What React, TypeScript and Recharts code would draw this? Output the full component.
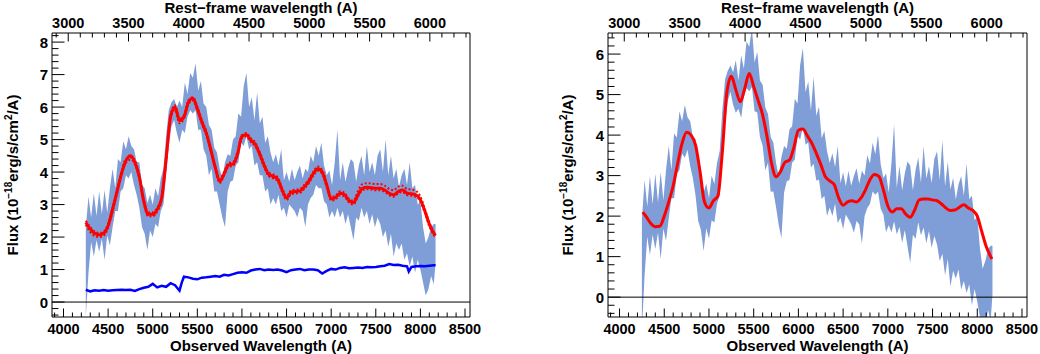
import { ComposedChart, Area, Line, XAxis, YAxis, ReferenceLine } from 'recharts';

// observed wavelength grid of the spectrum band (A)
const bandWl = [
  4250, 4280, 4310, 4340, 4370, 4400, 4430, 4460, 4490, 4520,
  4550, 4580, 4610, 4640, 4670, 4700, 4730, 4760, 4790, 4820,
  4850, 4880, 4910, 4940, 4970, 5000, 5030, 5060, 5090, 5120,
  5150, 5180, 5210, 5240, 5270, 5300, 5330, 5360, 5390, 5420,
  5450, 5480, 5510, 5540, 5570, 5600, 5630, 5660, 5690, 5720,
  5750, 5780, 5810, 5840, 5870, 5900, 5930, 5960, 5990, 6020,
  6050, 6080, 6110, 6140, 6170, 6200, 6230, 6260, 6290, 6320,
  6350, 6380, 6410, 6440, 6470, 6500, 6530, 6560, 6590, 6620,
  6650, 6680, 6710, 6740, 6770, 6800, 6830, 6860, 6890, 6920,
  6950, 6980, 7010, 7040, 7070, 7100, 7130, 7160, 7190, 7220,
  7250, 7280, 7310, 7340, 7370, 7400, 7430, 7460, 7490, 7520,
  7550, 7580, 7610, 7640, 7670, 7700, 7730, 7760, 7790, 7820,
  7850, 7880, 7910, 7940, 7970, 8000, 8030, 8060, 8090, 8120,
  8150, 8170,
];

// total spectrum (left panel), lower / upper edge
const totalLo = [
  -0.45, 0.9, 1.85, 1.4, 1.9, 1.55, 1.95, 1.3, 2.05, 1.75,
  2.3, 2.8, 2.8, 3.4, 3.5, 3.9, 3.8, 4.0, 3.6, 3.3,
  2.9, 2.3, 2.1, 1.6, 2.2, 2.0, 2.4, 2.3, 2.8, 3.0,
  3.9, 4.8, 5.4, 5.6, 5.2, 4.9, 5.3, 5.2, 5.7, 5.9,
  5.8, 5.9, 5.3, 5.3, 4.7, 4.5, 3.9, 4.1, 3.4, 3.4,
  3.0, 2.6, 2.3, 3.4, 3.7, 3.75, 4.2, 4.3, 4.9, 4.8,
  5.1, 4.7, 4.8, 4.2, 4.3, 3.9, 3.9, 3.4, 3.5, 3.0,
  3.2, 3.0, 3.3, 2.8, 2.9, 2.6, 3.0, 2.9, 2.8, 2.6,
  2.9, 2.8, 2.3, 3.0, 3.2, 3.3, 3.6, 3.5, 3.5, 3.1,
  3.0, 2.6, 2.8, 2.6, 2.9, 2.6, 2.8, 2.4, 2.7, 2.3,
  1.9, 2.6, 2.5, 2.9, 2.6, 2.8, 2.4, 2.7, 2.3, 2.6,
  2.4, 2.0, 2.2, 1.7, 2.1, 1.4, 1.8, 1.6, 1.8, 1.3,
  1.5, 1.1, 1.4, 0.9, 1.3, 1.0, 0.6, 0.2, 0.4, 0.8,
  0.55, 1.2,
];
const totalHi = [
  2.3, 3.25, 2.6, 3.35, 2.65, 3.4, 2.7, 3.45, 2.75, 3.5,
  4.1, 3.5, 4.4, 4.3, 4.95, 4.7, 5.1, 4.8, 4.7, 4.3,
  4.3, 3.6, 3.5, 3.05, 3.3, 3.0, 3.5, 3.25, 3.8, 4.1,
  5.1, 5.9, 6.15, 6.25, 6.0, 6.2, 6.0, 6.75, 6.4, 7.05,
  6.9, 7.35, 6.5, 6.8, 6.1, 6.0, 5.45, 5.3, 4.75, 4.6,
  4.1, 3.8, 4.3, 4.55, 4.5, 5.0, 5.1, 5.8, 5.7, 6.65,
  7.05, 6.0, 6.3, 5.6, 6.45, 5.5, 5.7, 4.9, 5.1, 4.6,
  4.3, 4.55, 4.2, 4.7, 3.75, 4.0, 3.7, 4.1, 3.75, 4.0,
  4.2, 3.8, 4.1, 4.0, 4.5, 4.3, 4.8, 4.5, 4.9, 4.2,
  3.9, 4.05, 3.6, 4.3, 5.3, 3.75, 4.3, 3.7, 4.1, 4.4,
  4.3, 3.7, 4.2, 4.5, 3.9, 4.8, 4.0, 4.3, 3.9, 4.5,
  4.7, 4.0, 5.0, 3.9, 4.5, 3.8, 4.1, 3.55, 3.9, 4.1,
  3.6, 4.3, 3.5, 3.6, 3.0, 3.1, 2.3, 1.8, 2.0, 2.3,
  2.4, 2.4,
];

// host-subtracted spectrum (right panel), lower / upper edge
const agnLo = [
  -0.83, 0.54, 1.49, 1.04, 1.54, 1.19, 1.59, 0.94, 1.69, 1.39,
  1.94, 2.44, 2.44, 3.04, 3.14, 3.54, 3.44, 3.64, 3.24, 2.94,
  2.5, 1.88, 1.66, 1.14, 1.7, 1.44, 1.9, 1.84, 2.31, 2.51,
  3.43, 4.27, 4.84, 5.07, 4.75, 4.55, 4.65, 4.42, 4.94, 5.16,
  5.08, 5.19, 4.59, 4.56, 3.95, 3.74, 3.13, 3.32, 2.6, 2.61,
  2.22, 1.78, 1.46, 2.58, 2.86, 2.89, 3.32, 3.4, 3.98, 3.89,
  4.2, 3.76, 3.82, 3.2, 3.29, 2.88, 2.9, 2.42, 2.5, 2.01,
  2.21, 2.0, 2.31, 1.83, 1.96, 1.68, 2.04, 1.92, 1.8, 1.59,
  1.88, 1.8, 1.32, 2.0, 2.2, 2.3, 2.61, 2.53, 2.6, 2.18,
  2.04, 1.6, 1.78, 1.6, 1.87, 1.55, 1.74, 1.34, 1.66, 1.25,
  0.85, 1.54, 1.44, 1.85, 1.53, 1.72, 1.33, 1.63, 1.22, 1.51,
  1.3, 0.89, 1.07, 0.54, 0.94, 0.26, 0.65, 0.46, 0.68, 0.19,
  0.4, 0.1, 0.32, -0.2, 0.2, -0.11, -0.5, -0.9, -0.71, -0.32,
  -0.58, 0.07,
];
const agnHi = [
  1.92, 2.89, 2.24, 2.99, 2.29, 3.04, 2.34, 3.09, 2.39, 3.14,
  3.74, 3.14, 4.04, 3.94, 4.59, 4.34, 4.74, 4.44, 4.34, 3.94,
  3.9, 3.18, 3.06, 2.59, 2.8, 2.44, 3.0, 2.79, 3.31, 3.61,
  4.63, 5.37, 5.59, 5.72, 5.55, 5.85, 5.35, 5.97, 5.64, 6.31,
  6.18, 6.64, 5.79, 6.06, 5.35, 5.24, 4.68, 4.52, 3.95, 3.81,
  3.32, 2.98, 3.46, 3.73, 3.66, 4.14, 4.22, 4.9, 4.78, 5.74,
  6.15, 5.06, 5.32, 4.6, 5.44, 4.48, 4.7, 3.92, 4.1, 3.61,
  3.31, 3.55, 3.21, 3.73, 2.81, 3.08, 2.74, 3.12, 2.75, 2.99,
  3.18, 2.8, 3.12, 3.0, 3.5, 3.3, 3.81, 3.53, 4.0, 3.28,
  2.94, 3.05, 2.58, 3.3, 4.27, 2.7, 3.24, 2.64, 3.06, 3.35,
  3.25, 2.64, 3.14, 3.45, 2.83, 3.72, 2.93, 3.23, 2.82, 3.41,
  3.6, 2.89, 3.87, 2.74, 3.34, 2.66, 2.95, 2.41, 2.78, 2.99,
  2.5, 3.3, 2.42, 2.5, 1.9, 1.99, 1.2, 0.7, 0.89, 1.18,
  1.27, 1.27,
];

// host galaxy template (blue)
const hostWl = [
  4250, 4300, 4350, 4400, 4450, 4500, 4550, 4600, 4650, 4700,
  4750, 4800, 4850, 4900, 4950, 5000, 5050, 5100, 5150, 5200,
  5250, 5300, 5325, 5350, 5400, 5450, 5500, 5550, 5600, 5650,
  5700, 5750, 5800, 5850, 5900, 5950, 6000, 6050, 6100, 6150,
  6200, 6250, 6300, 6350, 6400, 6450, 6500, 6550, 6600, 6650,
  6700, 6750, 6800, 6850, 6900, 6950, 7000, 7050, 7100, 7150,
  7200, 7250, 7300, 7350, 7400, 7450, 7500, 7550, 7600, 7650,
  7700, 7750, 7800, 7850, 7870, 7900, 7950, 8000, 8050, 8100,
  8150, 8170,
];
const hostFlux = [
  0.38, 0.33, 0.36, 0.35, 0.37, 0.35, 0.36, 0.37, 0.38, 0.37,
  0.38, 0.34, 0.4, 0.44, 0.47, 0.56, 0.45, 0.5, 0.47, 0.58,
  0.52, 0.35, 0.6, 0.78, 0.76, 0.72, 0.7, 0.75, 0.76, 0.78,
  0.8, 0.78, 0.84, 0.82, 0.86, 0.9, 0.92, 0.9, 0.97, 1.0,
  1.02, 0.98, 1.0, 0.99, 1.0, 0.97, 0.92, 0.98, 1.0, 1.02,
  0.98, 1.0, 1.0, 0.98, 0.88, 0.96, 1.02, 1.0, 1.05, 1.07,
  1.04, 1.05, 1.06, 1.05, 1.08, 1.07, 1.08, 1.1, 1.12, 1.17,
  1.14, 1.15, 1.12, 1.1, 0.94, 1.08, 1.1, 1.11, 1.1, 1.12,
  1.13, 1.13,
];

// fit to the total spectrum (left, red) with its error curves
const fitWl = [
  4250, 4300, 4350, 4400, 4450, 4500, 4550, 4600, 4650, 4700,
  4750, 4800, 4850, 4900, 4950, 5000, 5050, 5100, 5150, 5200,
  5250, 5300, 5350, 5400, 5450, 5500, 5550, 5600, 5650, 5700,
  5750, 5800, 5850, 5900, 5950, 6000, 6050, 6100, 6150, 6200,
  6250, 6300, 6350, 6400, 6450, 6500, 6550, 6600, 6650, 6700,
  6750, 6800, 6850, 6900, 6950, 7000, 7050, 7100, 7150, 7200,
  7250, 7300, 7350, 7400, 7450, 7500, 7550, 7600, 7650, 7700,
  7750, 7800, 7850, 7900, 7950, 8000, 8050, 8100, 8150, 8170,
];
const fitTotal = [
  2.45, 2.25, 2.12, 2.07, 2.12, 2.35, 2.85, 3.4, 3.95, 4.35,
  4.5, 4.3, 3.85, 3.1, 2.7, 2.7, 2.85, 3.2, 4.4, 5.7,
  6.0, 5.58, 5.7, 6.15, 6.27, 5.95, 5.55, 5.2, 4.7, 4.15,
  3.72, 3.95, 4.22, 4.25, 4.55, 5.1, 5.15, 4.98, 4.85, 4.55,
  4.2, 3.93, 3.87, 3.78, 3.45, 3.2, 3.38, 3.4, 3.42, 3.55,
  3.72, 3.95, 4.1, 4.0, 3.6, 3.18, 3.22, 3.35, 3.3, 3.12,
  3.06, 3.3, 3.5, 3.53, 3.52, 3.5, 3.5, 3.45, 3.35, 3.3,
  3.4, 3.45, 3.35, 3.33, 3.3, 3.15, 2.8, 2.4, 2.12, 2.05,
];
const fitTotalUp = [
  2.5, 2.3, 2.17, 2.12, 2.17, 2.41, 2.91, 3.46, 4.01, 4.41,
  4.45, 4.36, 3.91, 3.16, 2.76, 2.76, 2.91, 3.26, 4.46, 5.76,
  6.06, 5.64, 5.76, 6.21, 6.3, 6.01, 5.61, 5.26, 4.76, 4.21,
  3.78, 4.01, 4.28, 4.31, 4.61, 5.14, 5.2, 5.04, 4.91, 4.61,
  4.26, 3.99, 3.93, 3.84, 3.51, 3.26, 3.44, 3.46, 3.48, 3.61,
  3.78, 4.01, 4.17, 4.06, 3.66, 3.24, 3.28, 3.41, 3.36, 3.18,
  3.12, 3.42, 3.63, 3.66, 3.65, 3.63, 3.63, 3.58, 3.48, 3.44,
  3.55, 3.58, 3.48, 3.46, 3.42, 3.25, 2.86, 2.46, 2.16, 2.08,
];
const fitTotalLow = [
  2.38, 2.15, 2.03, 2.0, 2.04, 2.29, 2.79, 3.34, 3.89, 4.29,
  4.38, 4.24, 3.79, 3.04, 2.64, 2.64, 2.79, 3.14, 4.34, 5.64,
  5.92, 5.5, 5.64, 6.09, 6.2, 5.89, 5.49, 5.14, 4.64, 4.09,
  3.66, 3.89, 4.16, 4.19, 4.49, 5.05, 5.1, 4.92, 4.79, 4.49,
  4.14, 3.87, 3.81, 3.72, 3.39, 3.14, 3.32, 3.34, 3.36, 3.49,
  3.66, 3.89, 4.04, 3.94, 3.54, 3.12, 3.16, 3.29, 3.24, 3.06,
  3.0, 3.24, 3.44, 3.47, 3.46, 3.44, 3.44, 3.39, 3.29, 3.24,
  3.34, 3.39, 3.29, 3.27, 3.24, 3.09, 2.74, 2.34, 2.06, 2.0,
];

// fit to the host-subtracted spectrum (right, red)
const agnFitWl = [
  4260, 4300, 4350, 4400, 4450, 4500, 4550, 4600, 4650, 4700,
  4750, 4800, 4850, 4900, 4950, 5000, 5050, 5100, 5150, 5200,
  5250, 5300, 5350, 5400, 5450, 5500, 5550, 5600, 5650, 5700,
  5750, 5800, 5850, 5900, 5950, 6000, 6050, 6100, 6150, 6200,
  6250, 6300, 6350, 6400, 6450, 6500, 6550, 6600, 6650, 6700,
  6750, 6800, 6850, 6900, 6950, 7000, 7050, 7100, 7150, 7200,
  7250, 7300, 7350, 7400, 7450, 7500, 7550, 7600, 7650, 7700,
  7750, 7800, 7850, 7900, 7950, 8000, 8050, 8100, 8150, 8165,
];
const agnFit = [
  2.1, 1.98, 1.82, 1.74, 1.75, 2.0, 2.35, 2.75, 3.3, 3.8,
  4.07, 4.0, 3.75, 3.1, 2.35, 2.2, 2.38, 2.5, 3.6, 5.05,
  5.45, 5.12, 4.82, 5.15, 5.52, 5.2, 4.85, 4.5, 3.95, 3.3,
  2.97, 3.1, 3.33, 3.38, 3.7, 4.12, 4.15, 3.98, 3.8, 3.55,
  3.28, 2.98, 2.87, 2.78, 2.45, 2.27, 2.35, 2.38, 2.35, 2.45,
  2.65, 2.9, 3.03, 2.98, 2.65, 2.25, 2.1, 2.18, 2.18, 2.05,
  1.97, 2.15, 2.4, 2.42, 2.42, 2.4, 2.38, 2.3, 2.2, 2.14,
  2.15, 2.22, 2.28, 2.2, 2.14, 2.0, 1.62, 1.25, 1.0, 0.94,
];

const obsMajor = [4000, 4500, 5000, 5500, 6000, 6500, 7000, 7500, 8000, 8500];
const restMajor = [3000, 3500, 4000, 4500, 5000, 5500, 6000];
const onePlusZ = 1.351;
const obsDomain: [number, number] = [3871, 8556];
const restDomain: [number, number] = [obsDomain[0] / onePlusZ, obsDomain[1] / onePlusZ];

const FONT = '"Liberation Sans", Arial, Helvetica, sans-serif';
const BAND = '#7f9dd6';

const steps = (from: number, to: number, step: number) => {
  const out: number[] = [];
  for (let v = from; v <= to + 1e-9; v += step) out.push(Math.round(v * 100) / 100);
  return out;
};
const obsTicks = steps(3900, 8500, 100);
const restTicks = steps(2900, 6300, 100);

const zip = (xs: number[], ys: number[]) => xs.map((x, i) => ({ wl: x, v: ys[i] }));
const zipBand = (xs: number[], lo: number[], hi: number[]) =>
  xs.map((x, i) => ({ wl: x, v: [lo[i], hi[i]] }));
// anchors the rest-frame axis so that it gets a scale
const restAnchor = restDomain.map((w) => ({ wl: w, v: null }));

const isMajorY = (v: number) => Math.abs(v - Math.round(v)) < 1e-6;

function BottomTick(props: any) {
  const { x, y, payload } = props;
  const major = obsMajor.includes(payload.value);
  return (
    <g>
      <line x1={x} x2={x} y1={y} y2={y - (major ? 8.5 : 4.5)} stroke="#000" strokeWidth={1} />
      {major && (
        <text x={x} y={y + 17} textAnchor="middle" fontFamily={FONT} fontWeight="bold" fontSize={14.5} fill="#000">
          {payload.value}
        </text>
      )}
    </g>
  );
}

function TopTick(props: any) {
  const { x, y, payload } = props;
  const major = restMajor.includes(payload.value);
  return (
    <g>
      <line x1={x} x2={x} y1={y} y2={y + (major ? 8.5 : 4.5)} stroke="#000" strokeWidth={1} />
      {major && (
        <text x={x} y={y - 5} textAnchor="middle" fontFamily={FONT} fontWeight="bold" fontSize={14.5} fill="#000">
          {payload.value}
        </text>
      )}
    </g>
  );
}

function LeftTick(props: any) {
  const { x, y, payload } = props;
  const major = isMajorY(payload.value);
  return (
    <g>
      <line x1={x} x2={x + (major ? 12.5 : 6.5)} y1={y} y2={y} stroke="#000" strokeWidth={1} />
      {major && (
        <text x={x - 4} y={y + 5.5} textAnchor="end" fontFamily={FONT} fontWeight="bold" fontSize={15} fill="#000">
          {Math.round(payload.value)}
        </text>
      )}
    </g>
  );
}

const titleStyle = { fontFamily: FONT, fontWeight: 'bold' as const, fontSize: 15, fill: '#000' };

const xTitle = (cx: number, y: number, text: string) => () => (
  <text x={cx} y={y} textAnchor="middle" {...titleStyle}>
    {text}
  </text>
);

const yTitle = (bx: number) => () => (
  <text transform={`translate(${bx},175) rotate(-90)`} textAnchor="middle" {...titleStyle}>
    Flux (10
    <tspan dy={-6} fontSize={10}>
      −18
    </tspan>
    <tspan dy={6}>erg/s/cm</tspan>
    <tspan dy={-6} fontSize={10}>
      2
    </tspan>
    <tspan dy={6}>/A)</tspan>
  </text>
);

interface PanelProps {
  left: number;
  yWidth: number;
  rightMargin: number;
  titleX: number;
  yDomain: [number, number];
  yTicks: number[];
  children: React.ReactNode;
}

function Panel({ left, yWidth, rightMargin, titleX, yDomain, yTicks, children }: PanelProps) {
  const plotCx = yWidth + (520 - yWidth - rightMargin - 1) / 2;
  return (
    <div style={{ position: 'absolute', left, top: 0 }}>
      <ComposedChart width={520} height={354} margin={{ top: 0, right: rightMargin, bottom: 0, left: 0 }}>
        <XAxis
          xAxisId="obs"
          dataKey="wl"
          type="number"
          orientation="bottom"
          domain={obsDomain}
          allowDataOverflow
          ticks={obsTicks}
          interval={0}
          height={37}
          tickSize={0}
          tickMargin={0}
          tickLine={false}
          tick={<BottomTick />}
          axisLine={{ stroke: '#000', strokeWidth: 1 }}
          label={xTitle(plotCx, 351, 'Observed Wavelength (A)')}
        />
        <XAxis
          xAxisId="rest"
          dataKey="wl"
          type="number"
          orientation="top"
          domain={restDomain}
          allowDataOverflow
          ticks={restTicks}
          interval={0}
          height={33}
          tickSize={0}
          tickMargin={0}
          tickLine={false}
          tick={<TopTick />}
          axisLine={{ stroke: '#000', strokeWidth: 1 }}
          label={xTitle(plotCx, 13, 'Rest−frame wavelength (A)')}
        />
        <YAxis
          yAxisId="flux"
          type="number"
          domain={yDomain}
          allowDataOverflow
          ticks={yTicks}
          interval={0}
          width={yWidth}
          tickSize={0}
          tickMargin={0}
          tickLine={false}
          tick={<LeftTick />}
          axisLine={{ stroke: '#000', strokeWidth: 1 }}
          label={yTitle(titleX)}
        />
        <YAxis
          yAxisId="frame"
          orientation="right"
          type="number"
          domain={yDomain}
          allowDataOverflow
          width={1}
          tick={false}
          tickLine={false}
          axisLine={{ stroke: '#000', strokeWidth: 1 }}
        />
        <Line
          xAxisId="rest"
          yAxisId="flux"
          data={restAnchor}
          dataKey="v"
          stroke="none"
          dot={false}
          legendType="none"
          isAnimationActive={false}
        />
        {children}
      </ComposedChart>
    </div>
  );
}

export default function App() {
  const totalBand = zipBand(bandWl, totalLo, totalHi);
  const agnBand = zipBand(bandWl, agnLo, agnHi);
  return (
    <div style={{ position: 'absolute', left: 0, top: 0, width: 1040, height: 354, background: '#fff' }}>
      <Panel left={0} yWidth={52} rightMargin={49} titleX={18} yDomain={[-0.46, 8.28]} yTicks={steps(-0.4, 8.2, 0.2)}>
        <Area
          xAxisId="obs"
          yAxisId="flux"
          data={totalBand}
          dataKey="v"
          type="linear"
          stroke="none"
          fill={BAND}
          fillOpacity={1}
          isAnimationActive={false}
        />
        <ReferenceLine xAxisId="obs" yAxisId="flux" y={0} stroke="#000" strokeWidth={1} />
        <Line xAxisId="obs" yAxisId="flux" data={zip(fitWl, fitTotalUp)} dataKey="v" type="monotone" stroke="#ff0000" strokeWidth={2} strokeDasharray="2 2" dot={false} isAnimationActive={false} />
        <Line xAxisId="obs" yAxisId="flux" data={zip(fitWl, fitTotalLow)} dataKey="v" type="monotone" stroke="#ff0000" strokeWidth={2} strokeDasharray="2 2" dot={false} isAnimationActive={false} />
        <Line xAxisId="obs" yAxisId="flux" data={zip(fitWl, fitTotal)} dataKey="v" type="monotone" stroke="#ff0000" strokeWidth={3} dot={false} isAnimationActive={false} />
        <Line xAxisId="obs" yAxisId="flux" data={zip(hostWl, hostFlux)} dataKey="v" type="linear" stroke="#0000ff" strokeWidth={2.5} dot={false} isAnimationActive={false} />
      </Panel>
      <Panel left={520} yWidth={88} rightMargin={12} titleX={53} yDomain={[-0.49, 6.52]} yTicks={steps(-0.4, 6.4, 0.2)}>
        <Area
          xAxisId="obs"
          yAxisId="flux"
          data={agnBand}
          dataKey="v"
          type="linear"
          stroke="none"
          fill={BAND}
          fillOpacity={1}
          isAnimationActive={false}
        />
        <ReferenceLine xAxisId="obs" yAxisId="flux" y={0} stroke="#000" strokeWidth={1} />
        <Line xAxisId="obs" yAxisId="flux" data={zip(agnFitWl, agnFit)} dataKey="v" type="monotone" stroke="#ff0000" strokeWidth={3} dot={false} isAnimationActive={false} />
      </Panel>
    </div>
  );
}
